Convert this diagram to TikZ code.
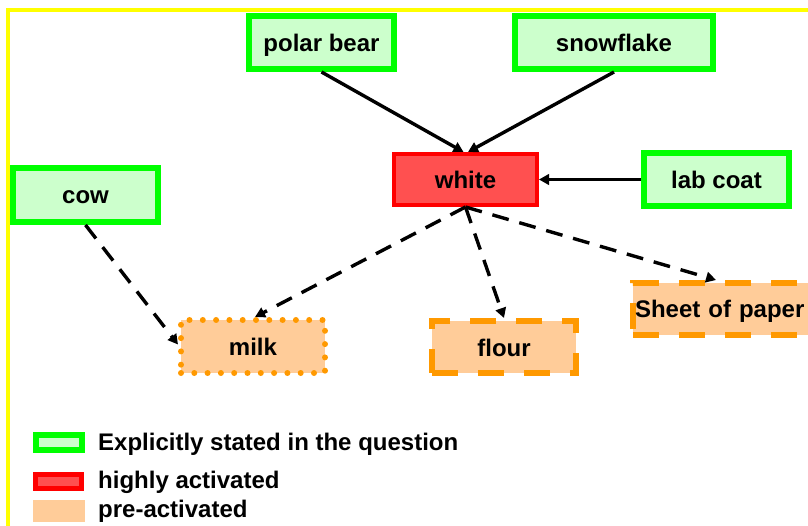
\documentclass[tikz,border=0pt]{standalone}
\usepackage{fontspec}
\setmainfont{Liberation Sans}
\usetikzlibrary{arrows.meta}

\definecolor{stgreen}{HTML}{00FF00}
\definecolor{stfill}{HTML}{CCFFCC}
\definecolor{acred}{HTML}{FF0000}
\definecolor{acfill}{HTML}{FF5050}
\definecolor{preorange}{HTML}{FF9900}
\definecolor{prefill}{HTML}{FFCC99}
\definecolor{frameyellow}{HTML}{FFFF00}

\begin{document}
\begin{tikzpicture}[x=1pt, y=-1pt,
  every node/.style={font=\fontsize{24}{28}\selectfont\bfseries, inner sep=0pt,
                     text height=18pt, text depth=0pt},
  stated/.style={draw=stgreen, fill=stfill, line width=6pt},
  active/.style={draw=acred, fill=acfill, line width=4pt},
  prebox/.style={draw=preorange, fill=prefill, line width=6pt},
  predash/.style={prebox, dash pattern=on 26pt off 20pt},
  predot/.style={prebox, dash pattern=on 0pt off 13.3pt, line cap=round},
  keybox/.style={text height=0pt, text depth=0pt},
  link/.style={line width=3.4pt, -{Triangle[length=10pt,width=10.5pt]}},
  assoc/.style={link, dash pattern=on 17pt off 11pt},
]
\useasboundingbox (0,0) rectangle (808,526);
\clip (0,0) rectangle (808,526);

% frame (only its top and left sides fall on the page)
\coordinate (frameBL) at (7.8,540);
\coordinate (frameTL) at (7.8,10);
\coordinate (frameTR) at (830,10);
\draw[frameyellow, line width=3.5pt] (frameBL) -- (frameTL) -- (frameTR);

% concepts named in the question
\node[stated, minimum width=145pt, minimum height=53pt] (polar) at (321.5,42.5) {polar bear};
\node[stated, minimum width=198pt, minimum height=53pt] (snow)  at (614,42.5)   {snowflake};
\node[stated, minimum width=145pt, minimum height=54pt] (cow)   at (85.5,195)   {cow};
\node[stated, minimum width=145pt, minimum height=53pt] (lab)   at (716.5,179.5) {lab coat};

% highly activated concept
\node[active, minimum width=143pt, minimum height=51pt] (white) at (465.5,179.5) {white};

% pre-activated concepts
\node[predot,  minimum width=144pt, minimum height=53pt] (milk)  at (253,346.5) {milk};
\node[predash, minimum width=144pt, minimum height=52pt] (flour) at (504,347)   {flour};
\node[predash, anchor=west, text width=190pt, align=left, inner xsep=2pt,
      minimum height=52pt] (sheet) at (630,309) {Sheet of paper};

% activation links
\draw[link] (polar.south) -- ([xshift=-2pt]white.north);
\draw[link] (snow.south) -- ([xshift=2.5pt]white.north);
\draw[link] (lab.west) -- (lab.west -| white.east);
\draw[assoc] (white.south) -- ([xshift=2pt]milk.north);
\draw[assoc] (white.south) -- (flour.north);
\draw[assoc] (white.south) -- ([xshift=86pt]sheet.north west);
\draw[assoc] (cow.south) -- ([yshift=2pt]milk.west);

% legend
\node[stated, keybox, line width=6pt, minimum width=46pt, minimum height=15pt] (keyStated) at (59,442.5) {};
\node[active, keybox, line width=5pt, minimum width=46pt, minimum height=14pt] (keyActive) at (58.5,481.5) {};
\node[keybox, fill=prefill, minimum width=52pt, minimum height=22pt] (keyPre) at (59,511) {};
\node[anchor=base west] (txtStated) at (98,450) {Explicitly stated in the question};
\node[anchor=base west] (txtActive) at (98,488) {highly activated};
\node[anchor=base west] (txtPre)    at (98,517) {pre-activated};
\end{tikzpicture}
\end{document}
